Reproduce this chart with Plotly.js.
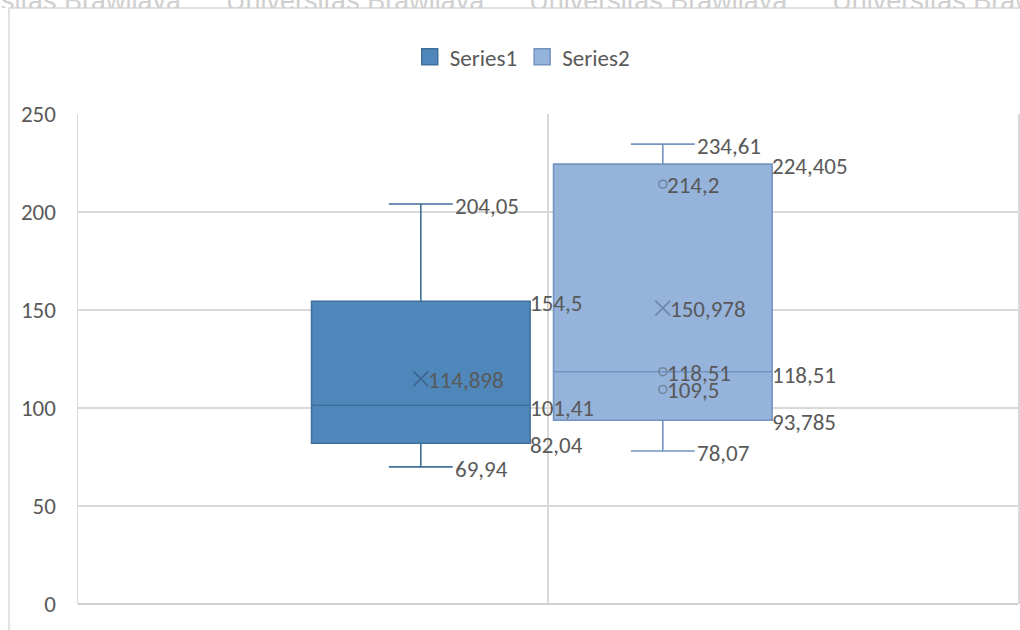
<!DOCTYPE html>
<html>
<head>
<meta charset="utf-8">
<script src="https://cdn.plot.ly/plotly-3.0.1.min.js"></script>
<style>
  html, body { margin: 0; padding: 0; background: #ffffff; }
  #chart { width: 1020px; height: 630px; }
</style>
</head>
<body>
<div id="chart"></div>
<script>
// Series names and five-number summaries
const seriesNames = ['Series1', 'Series2'];
const lowerWhisker = [69.94, 78.07];
const q1Values = [82.04, 93.785];
const medianValues = [101.41, 118.51];
const q3Values = [154.5, 224.405];
const upperWhisker = [204.05, 234.61];
const meanValues = [114.898, 150.978];
// Inner points drawn inside the boxes
const innerPoints = [[], [214.2, 118.51, 109.5]];
const yTicks = [0, 50, 100, 150, 200, 250];
const watermarkText = 'Universitas Brawijaya';

// Styling
const fillColors = ['#4F87BA', '#95B3DB'];
const lineColors = ['#41709C', '#7393C0'];
const meanColors = ['rgba(55,90,130,0.85)', 'rgba(105,130,165,0.9)'];
const boxCenters = [0.7294, 1.2443];
const boxWidth = 0.465;
const capFraction = 0.292;
const fontFamily = 'Carlito, Calibri, Lato, sans-serif';
const labelFont = { family: fontFamily, size: 23, color: '#595959' };

const fmt = v => String(v).replace('.', ',');

const traces = [];
const annotations = [];

seriesNames.forEach((name, i) => {
  const cx = boxCenters[i];
  traces.push({
    type: 'box',
    name: name,
    x: [cx],
    q1: [q1Values[i]],
    median: [medianValues[i]],
    q3: [q3Values[i]],
    lowerfence: [lowerWhisker[i]],
    upperfence: [upperWhisker[i]],
    width: boxWidth,
    whiskerwidth: capFraction,
    fillcolor: fillColors[i],
    line: { color: lineColors[i], width: 1.6 },
    boxpoints: false,
    showlegend: false,
    hoverinfo: 'skip'
  });
  // mean marker
  traces.push({
    type: 'scatter', mode: 'markers', x: [cx], y: [meanValues[i]],
    marker: { symbol: 'x-thin-open', size: 15, color: meanColors[i], line: { color: meanColors[i], width: 1.6 } },
    showlegend: false, hoverinfo: 'skip'
  });
  // inner points
  if (innerPoints[i].length) {
    traces.push({
      type: 'scatter', mode: 'markers',
      x: innerPoints[i].map(() => cx), y: innerPoints[i],
      marker: { symbol: 'circle-open', size: 8, color: 'rgba(110,125,150,0.9)', line: { width: 1.5 } },
      showlegend: false, hoverinfo: 'skip'
    });
  }

  const capEnd = cx + boxWidth * capFraction / 2;
  const boxEdge = cx + boxWidth / 2;
  const lab = (x, y, xs, ys) => annotations.push({
    x: x, y: y, xref: 'x', yref: 'y', text: fmt(y), showarrow: false,
    xanchor: 'left', yanchor: 'middle', xshift: xs, yshift: ys, font: labelFont
  });
  lab(capEnd, upperWhisker[i], 0, -2);
  lab(capEnd, lowerWhisker[i], 0, -2);
  lab(boxEdge, q3Values[i], -2, -2);
  lab(boxEdge, medianValues[i], -2, -3);
  lab(boxEdge, q1Values[i], -2, -2);
  lab(cx, meanValues[i], 5, -1);
  innerPoints[i].forEach(p => lab(cx, p, 2, -1));
});

// legend swatches
seriesNames.forEach((name, i) => {
  traces.push({
    type: 'scatter', mode: 'markers', name: name, x: [null], y: [null],
    marker: { symbol: 'square', size: 16, color: fillColors[i], line: { color: lineColors[i], width: 1.5 } },
    showlegend: true, hoverinfo: 'skip'
  });
});

// faint repeated watermark along the top edge, clipped at the frame line
const gap = '\u00a0\u00a0\u00a0\u00a0\u00a0\u00a0';
annotations.push({
  xref: 'paper', yref: 'paper', x: -0.166, y: 1.2153, xanchor: 'left', yanchor: 'bottom',
  height: 22, valign: 'top', borderpad: 0,
  text: [watermarkText, watermarkText, watermarkText, watermarkText, watermarkText].join(gap),
  showarrow: false, font: { family: 'Liberation Sans, Arial, sans-serif', size: 27, color: '#CFCFCF' }
});

const layout = {
  width: 1020, height: 630,
  margin: { l: 78, r: 2, t: 114, b: 26, pad: 0 },
  paper_bgcolor: '#ffffff', plot_bgcolor: '#ffffff',
  showlegend: true,
  legend: {
    orientation: 'h', x: 0.512, xref: 'container', xanchor: 'center',
    y: 0.91, yref: 'container', yanchor: 'middle',
    font: { family: fontFamily, size: 23, color: '#595959' },
    itemclick: false, itemdoubleclick: false, tracegroupgap: 0, itemwidth: 30
  },
  xaxis: {
    range: [0, 2], dtick: 1, tick0: 0, showgrid: true, gridcolor: '#D9D9D9', gridwidth: 1.5,
    showticklabels: false, zeroline: false, showline: false, fixedrange: true
  },
  yaxis: {
    range: [0, 250], tickvals: yTicks, ticktext: yTicks.map(String),
    showgrid: true, gridcolor: '#D9D9D9', gridwidth: 1.5,
    zeroline: true, zerolinecolor: '#D0D0D0', zerolinewidth: 2,
    showline: true, mirror: true, linecolor: '#D9D9D9', linewidth: 1.5,
    ticklabelstandoff: 16,
    tickfont: { family: fontFamily, size: 23, color: '#595959' },
    fixedrange: true
  },
  annotations: annotations,
  shapes: [{
    type: 'rect', xref: 'paper', yref: 'paper',
    x0: -0.0734, x1: 1.2, y0: -0.3, y1: 1.2163,
    line: { color: '#D9D9D9', width: 1.5 }, fillcolor: 'rgba(0,0,0,0)', layer: 'below'
  }],
  boxmode: 'overlay'
};

Plotly.newPlot('chart', traces, layout, { staticPlot: true, displayModeBar: false });
</script>
</body>
</html>
